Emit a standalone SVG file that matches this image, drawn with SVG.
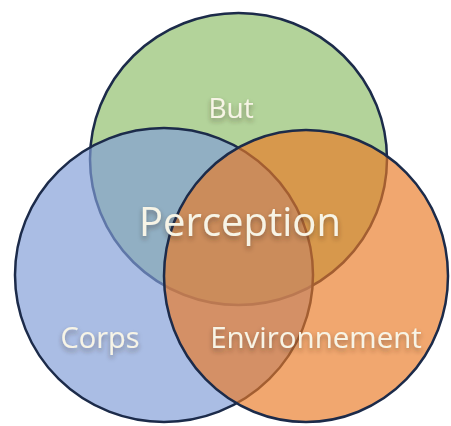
<svg xmlns="http://www.w3.org/2000/svg" width="451" height="426" viewBox="0 0 451 426">
<defs>
<style>
.c{stroke:#1c2b4a;stroke-width:2.5}
.t{font-family:"Open Sans","Liberation Sans",sans-serif;fill:#f7f4e6;text-anchor:middle;filter:url(#sh)}
</style>
<filter id="sh" x="-20%" y="-30%" width="140%" height="180%">
<feDropShadow dx="0" dy="3" stdDeviation="2.5" flood-color="#3a2a20" flood-opacity="0.45"/>
</filter>
</defs>
<rect width="451" height="426" fill="#ffffff"/>
<g id="but">
<ellipse class="c" cx="238.5" cy="159" rx="148.5" ry="146" fill="#b3d39a"/>
</g>
<g id="corps">
<ellipse class="c" cx="164" cy="275" rx="149" ry="147" fill="#809dd7" fill-opacity="0.67"/>
</g>
<g id="environnement">
<ellipse class="c" cx="306" cy="276" rx="142" ry="146" fill="#ea7a24" fill-opacity="0.66"/>
</g>
<g id="labels">
<text class="t" x="231" y="118" font-size="28">But</text>
<text class="t" x="240" y="236" font-size="40">Perception</text>
<text class="t" x="100" y="348" font-size="29">Corps</text>
<text class="t" x="316" y="348" font-size="29.5">Environnement</text>
</g>
</svg>
